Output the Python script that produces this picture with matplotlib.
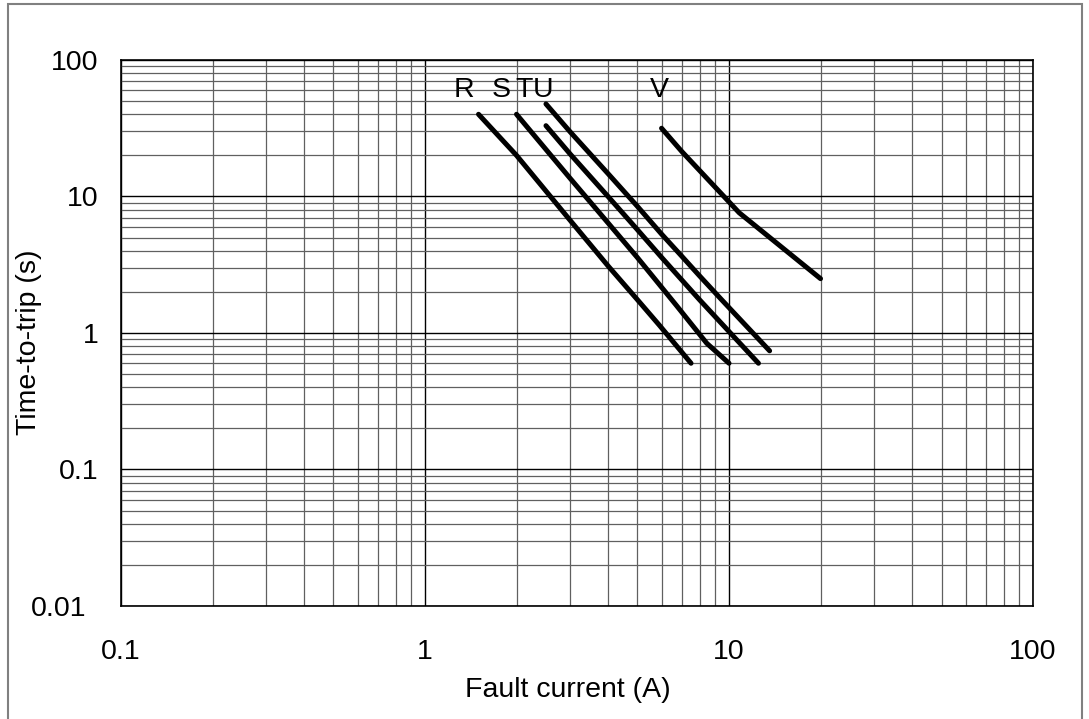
import matplotlib
matplotlib.use("Agg")
import matplotlib.pyplot as plt
from matplotlib.patches import Rectangle
from matplotlib.transforms import ScaledTranslation

plt.rcParams["font.family"] = ["Liberation Sans", "DejaVu Sans"]

# trip curves: fault current (A), time-to-trip (s)
r_current = [1.5, 2.0, 3.0, 4.0, 5.0, 5.9, 7.5]
r_time = [40, 20, 6.7, 3.1, 1.75, 1.14, 0.6]

s_current = [2.0, 3.0, 4.0, 5.0, 6.7, 8.45, 10.0]
s_time = [40, 13.6, 6.4, 3.56, 1.6, 0.84, 0.6]

t_current = [2.5, 3.0, 4.0, 5.0, 6.0, 8.0, 12.5]
t_time = [33, 20.5, 10.0, 5.7, 3.58, 1.75, 0.6]

u_current = [2.5, 3.0, 4.0, 5.0, 6.0, 7.0, 8.0, 9.46, 13.6]
u_time = [47.6, 29.8, 14.7, 8.45, 5.3, 3.64, 2.62, 1.75, 0.74]

v_current = [6.0, 7.0, 10.8, 20.0]
v_time = [31.6, 21.3, 7.6, 2.5]

curve_names = ["R", "S", "T", "U", "V"]
name_x = [1.34, 1.78, 2.11, 2.44, 5.9]
name_y = 60

x_ticks = [0.1, 1, 10, 100]
x_tick_labels = ["0.1", "1", "10", "100"]
y_ticks = [0.01, 0.1, 1, 10, 100]
y_tick_labels = ["0.01", "0.1", "1", "10", "100"]

fig = plt.figure(figsize=(10.89, 7.19), dpi=100)
ax = fig.add_axes([0.1111, 0.1572, 0.8375, 0.7594])

for xs, ys in [(r_current, r_time), (s_current, s_time), (t_current, t_time),
               (u_current, u_time), (v_current, v_time)]:
    ax.plot(xs, ys, color="black", lw=3.6, solid_capstyle="round",
            solid_joinstyle="round", zorder=3)

for name, x in zip(curve_names, name_x):
    ax.text(x, name_y, name, fontsize=20.5, ha="center", va="center")

ax.set_xscale("log")
ax.set_yscale("log")
ax.set_xlim(0.1, 100)
ax.set_ylim(0.01, 100)

ax.grid(which="major", color="black", lw=1.0)
ax.grid(which="minor", color="#606060", lw=0.9)
ax.set_axisbelow(True)

ax.set_xticks(x_ticks)
ax.set_xticklabels(x_tick_labels)
ax.set_yticks(y_ticks)
ax.set_yticklabels(y_tick_labels)
ax.tick_params(which="both", length=0)
ax.tick_params(axis="x", pad=24, labelsize=20.5)
ax.tick_params(axis="y", pad=16, labelsize=20.5)

# the lowest y label sits a bit further left in the original
low = ax.yaxis.get_major_ticks()[0].label1
low.set_transform(low.get_transform() +
                  ScaledTranslation(-0.12, 0, fig.dpi_scale_trans))

for sp in ax.spines.values():
    sp.set_color("black")
    sp.set_linewidth(1.2)

ax.set_xlabel("Fault current (A)", fontsize=20.5)
ax.set_ylabel("Time-to-trip (s)", fontsize=20.5)
ax.xaxis.set_label_coords(0.49, -0.130)
ax.yaxis.set_label_coords(-0.087, 0.4835)

# thin grey frame round the whole figure
fig.patches.append(Rectangle((8 / 1089, -0.01), 1074 / 1089, 1.01 - 4 / 719,
                             transform=fig.transFigure, fill=False,
                             edgecolor="#808080", lw=1.5))

fig.savefig("out.png", dpi=100)
